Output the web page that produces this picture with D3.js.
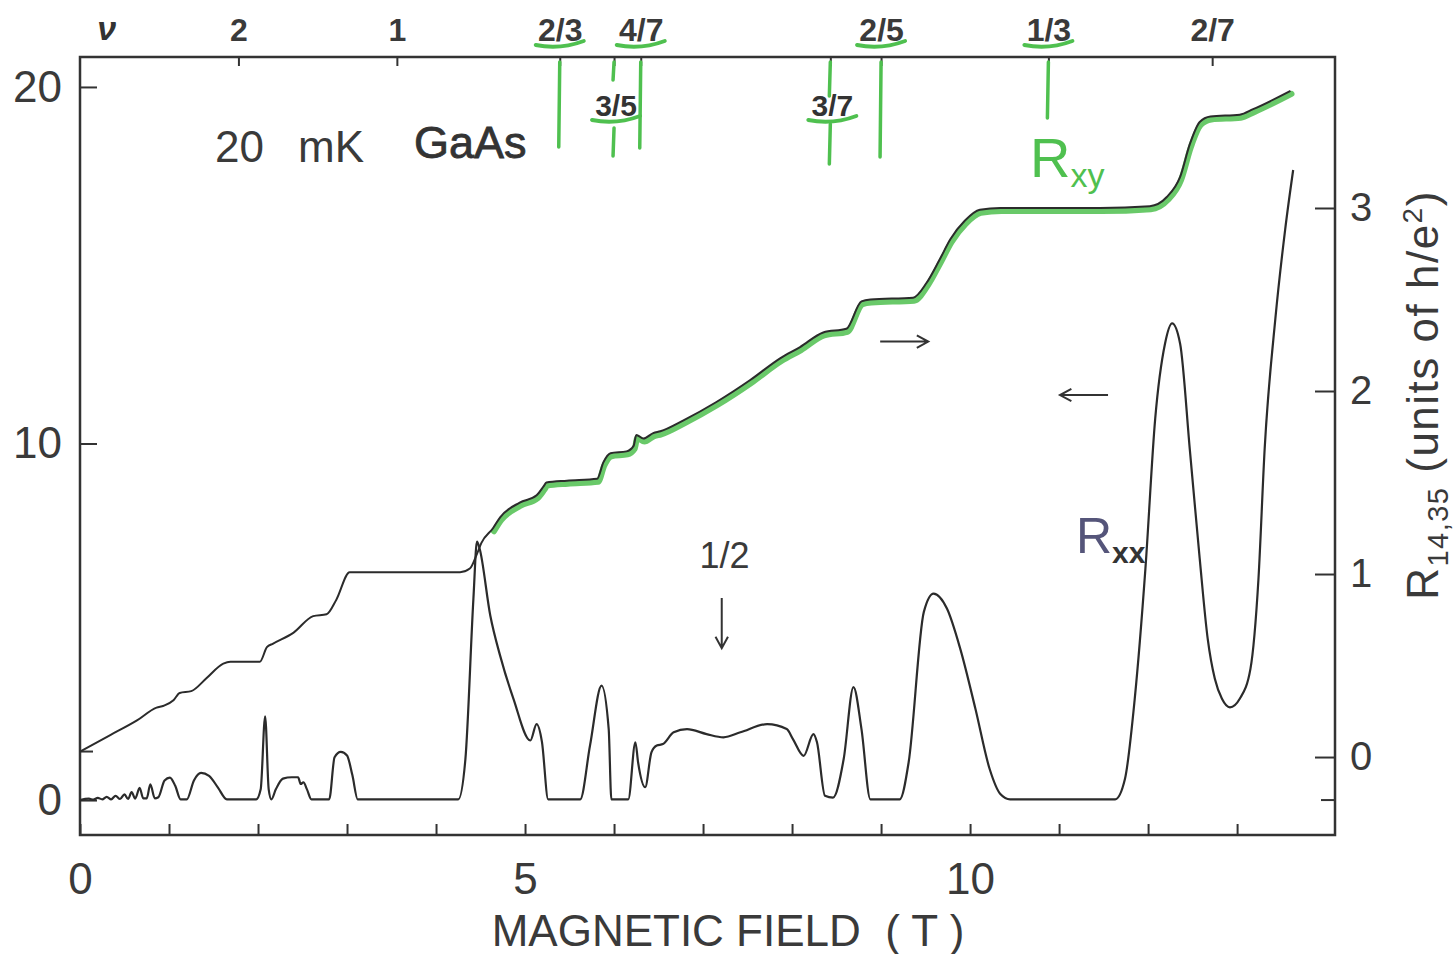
<!DOCTYPE html>
<html>
<head>
<meta charset="utf-8">
<script src="https://cdn.jsdelivr.net/npm/d3@7"></script>
<style>
  body { margin: 0; background: #fff; }
  text { font-family: "Liberation Sans", Arial, sans-serif; fill: #3a3a3a; }
</style>
</head>
<body>
<svg id="chart"></svg>
<script>
// magnetic field (T) and longitudinal resistance R_xx (left axis)
const rxxField = [0, 0.1, 0.15, 0.2, 0.25, 0.3, 0.35, 0.4, 0.45, 0.5, 0.54, 0.58, 0.62, 0.67, 0.71, 0.75, 0.79, 0.84,
  0.88, 0.95, 1.01, 1.07, 1.13, 1.2, 1.28, 1.36, 1.45, 1.55, 1.65, 1.98, 2.03, 2.08, 2.12, 2.15, 2.2, 2.28, 2.38, 2.45,
  2.48, 2.51, 2.55, 2.6, 2.8, 2.86, 2.93, 3.0, 3.06, 3.12, 4.25, 4.33, 4.42, 4.46, 4.49, 4.61, 4.72, 4.87, 5.06, 5.13,
  5.19, 5.26, 5.62, 5.73, 5.86, 5.94, 5.97, 6.16, 6.24, 6.27, 6.35, 6.42, 6.48, 6.55, 6.67, 6.82, 7.04, 7.23, 7.42,
  7.72, 7.94, 8.01, 8.13, 8.24, 8.28, 8.37, 8.46, 8.58, 8.69, 8.78, 8.88, 9.21, 9.31, 9.48, 9.59, 9.74, 9.89, 10.06,
  10.22, 10.34, 10.45, 11.63, 11.74, 11.85, 11.97, 12.08, 12.19, 12.27, 12.36, 12.47, 12.58, 12.67, 12.75, 12.83,
  12.92, 13.03, 13.15, 13.24, 13.31, 13.43, 13.54, 13.63];
const rxxValue = [0, 0.04, 0.01, 0.06, 0.02, 0.09, 0.02, 0.12, 0.03, 0.16, 0.03, 0.22, 0.04, 0.34, 0.05, 0.05, 0.44, 0.05,
  0.08, 0.55, 0.63, 0.4, 0.02, 0.02, 0.55, 0.76, 0.68, 0.35, 0.02, 0.02, 0.3, 2.35, 0.3, 0.02, 0.3, 0.6, 0.64, 0.64,
  0.45, 0.5, 0.3, 0.02, 0.02, 1.2, 1.35, 1.25, 0.7, 0.02, 0.02, 1.15, 5.65, 7.25, 7.05, 5.17, 4.05, 2.84, 1.67, 2.13,
  1.63, 0.02, 0.02, 1.53, 3.21, 1.99, 0.02, 0.02, 1.62, 1.06, 0.36, 1.34, 1.53, 1.57, 1.9, 1.99, 1.85, 1.76, 1.9,
  2.13, 1.99, 1.71, 1.24, 1.85, 1.62, 0.12, 0.07, 1.15, 3.17, 1.99, 0.02, 0.02, 1.06, 5.27, 5.79, 5.37, 4.24, 2.56,
  0.87, 0.17, 0.02, 0.02, 0.59, 2.84, 6.49, 10.7, 12.8, 13.37, 12.8, 9.8, 6.77, 4.52, 3.4, 2.84,
  2.6, 2.84, 3.68, 6.2, 9.86, 13.5, 16.0, 17.67];

// Hall resistance R_xy in units of h/e^2 (right axis)
const rxyField = [0, 0.34, 0.64, 0.86, 0.94, 1.05, 1.12, 1.25, 1.42, 1.61, 1.69, 2.02, 2.1, 2.17, 2.4, 2.62, 2.77, 2.88,
  3.03, 4.27, 4.38, 4.46, 4.51, 4.64, 4.72, 4.94, 5.13, 5.21, 5.24, 5.47, 5.81, 5.88, 5.96, 6.14, 6.22, 6.25, 6.33,
  6.44, 6.52, 6.78, 7.15, 7.53, 7.87, 8.09, 8.35, 8.61, 8.78, 8.88, 9.36, 9.51, 9.66, 9.78, 9.94, 10.11, 10.34,
  11.46, 12.02, 12.21, 12.36, 12.47, 12.58, 12.7, 13.03, 13.18, 13.6];
const rxyValue = [0.03, 0.12, 0.2, 0.27, 0.28, 0.31, 0.35, 0.36, 0.43, 0.51, 0.52, 0.52, 0.6, 0.62, 0.68, 0.77, 0.78, 0.86,
  1.01, 1.01, 1.03, 1.11, 1.17, 1.25, 1.31, 1.39, 1.43, 1.48, 1.5, 1.51, 1.52, 1.61, 1.66, 1.67, 1.7, 1.76, 1.74,
  1.77, 1.78, 1.84, 1.94, 2.06, 2.18, 2.24, 2.32, 2.34, 2.49, 2.5, 2.51, 2.59, 2.72, 2.83, 2.93, 2.99, 3.0,
  3.0, 3.01, 3.06, 3.17, 3.35, 3.47, 3.5, 3.51, 3.54, 3.64];

// filling factors marked on the top edge
const nuLabels = ["2", "1", "2/3", "3/5", "4/7", "3/7", "2/5", "1/3", "2/7"];
const nuField = [1.78, 3.56, 5.39, 6.0, 6.3, 8.43, 9.0, 10.88, 12.72];
const nuInside = ["3/5", "3/7"];          // these labels are written below the edge

const fieldTicks = d3.range(0, 14);
const fieldLabels = [0, 5, 10];
const leftTicks = [0, 10, 20];
const rightTicks = [0, 1, 2, 3];

const width = 1454, height = 954;
const frame = { left: 80, right: 1335, top: 57, bottom: 835 };
const green = "#4fc04f";

const svg = d3.select("#chart").attr("width", width).attr("height", height);

const x = d3.scaleLinear().domain([0, 14.1]).range([frame.left, frame.right]);
const yL = d3.scaleLinear().domain([-0.98, 20.84]).range([frame.bottom, frame.top]);
const yR = d3.scaleLinear().domain([-0.426, 3.825]).range([frame.bottom, frame.top]);

// frame
svg.append("rect")
  .attr("x", frame.left).attr("y", frame.top)
  .attr("width", frame.right - frame.left).attr("height", frame.bottom - frame.top)
  .attr("fill", "none").attr("stroke", "#333").attr("stroke-width", 2.5);

function styleAxis(g, size) {
  g.select(".domain").remove();
  g.selectAll(".tick line").attr("stroke", "#333").attr("stroke-width", 2);
  g.selectAll(".tick text").attr("font-size", size).attr("fill", "#3a3a3a")
    .attr("font-family", "Liberation Sans, Arial, sans-serif");
}

svg.append("g")
  .attr("transform", `translate(0,${frame.bottom})`)
  .call(d3.axisBottom(x).tickValues(fieldTicks).tickSize(-11).tickPadding(28)
    .tickFormat(d => fieldLabels.includes(d) ? d : ""))
  .call(g => styleAxis(g, 44));

svg.append("g")
  .attr("transform", `translate(${frame.left},0)`)
  .call(d3.axisLeft(yL).tickValues(leftTicks).tickSize(-17).tickPadding(18).tickFormat(d3.format("d")))
  .call(g => styleAxis(g, 44));

svg.append("g")
  .attr("transform", `translate(${frame.right},0)`)
  .call(d3.axisRight(yR).tickValues(rightTicks).tickSize(-20).tickPadding(15).tickFormat(d3.format("d")))
  .call(g => styleAxis(g, 40));

// extra short marks: R_xx zero on the right, R_xy zero on the left
svg.append("line").attr("x1", frame.right - 14).attr("x2", frame.right)
  .attr("y1", yL(0)).attr("y2", yL(0)).attr("stroke", "#333").attr("stroke-width", 2);
svg.append("line").attr("x1", frame.left).attr("x2", frame.left + 13)
  .attr("y1", yR(0.03)).attr("y2", yR(0.03)).attr("stroke", "#333").attr("stroke-width", 2);

svg.append("g")
  .attr("transform", `translate(0,${frame.top})`)
  .call(d3.axisTop(x).tickValues(nuField).tickSize(-9).tickPadding(16)
    .tickFormat((d, i) => nuInside.includes(nuLabels[i]) ? "" : nuLabels[i]))
  .call(g => styleAxis(g, 32))
  .call(g => g.selectAll(".tick text").attr("font-weight", "bold").attr("fill", "#333"));

svg.append("text").attr("x", x(0.3)).attr("y", 40)
  .attr("font-family", "DejaVu Serif").attr("font-style", "italic").attr("font-weight", "bold")
  .attr("font-size", 34).attr("text-anchor", "middle").style("fill", "#333").text("ν");

// green hand annotations on the fractions
const nuAt = lab => x(nuField[nuLabels.indexOf(lab)]);
const greenLines = [
  ["2/3", [[62, 147]]], ["3/5", [[62, 80], [128, 156]]], ["4/7", [[62, 148]]],
  ["3/7", [[62, 96], [124, 164]]], ["2/5", [[62, 157]]], ["1/3", [[62, 118]]]
];
const gAnn = svg.append("g").attr("stroke", green).attr("stroke-linecap", "round").attr("fill", "none");
greenLines.forEach(([lab, segs]) => {
  segs.forEach(s => gAnn.append("line")
    .attr("x1", nuAt(lab)).attr("x2", nuAt(lab) - 1)
    .attr("y1", s[0]).attr("y2", s[1]).attr("stroke-width", 3.5));
  const inside = nuInside.includes(lab);
  const uy = inside ? 120 : 45;
  const cx = inside ? nuAt(lab) + 2 : nuAt(lab);
  gAnn.append("path")
    .attr("d", `M${cx - 24},${uy} Q${cx},${uy + 5} ${cx + 24},${uy - 4}`)
    .attr("stroke-width", 4);
});
nuInside.forEach(lab => {
  svg.append("text").attr("x", nuAt(lab) + 2).attr("y", 116).attr("text-anchor", "middle")
    .attr("font-size", 30).attr("font-weight", "bold").style("fill", "#333").text(lab);
});

// curves
const rxx = rxxField.map((b, i) => ({ b, v: rxxValue[i] }));
const rxy = rxyField.map((b, i) => ({ b, v: rxyValue[i] }));

svg.append("path").datum(rxy.filter(d => d.b >= 4.55))
  .attr("d", d3.line().x(d => x(d.b)).y(d => yR(d.v)).curve(d3.curveMonotoneX))
  .attr("transform", "translate(1,3)")
  .attr("fill", "none").attr("stroke", green).attr("stroke-width", 6)
  .attr("stroke-opacity", 0.85).attr("stroke-linecap", "round");

svg.append("path").datum(rxy)
  .attr("d", d3.line().x(d => x(d.b)).y(d => yR(d.v)).curve(d3.curveMonotoneX))
  .attr("fill", "none").attr("stroke", "#2b2b2b").attr("stroke-width", 2);

svg.append("path").datum(rxx)
  .attr("d", d3.line().x(d => x(d.b)).y(d => yL(d.v)).curve(d3.curveMonotoneX))
  .attr("fill", "none").attr("stroke", "#2b2b2b").attr("stroke-width", 2.2);

// arrows
function arrow(x1, y1, x2, y2) {
  const a = Math.atan2(y2 - y1, x2 - x1), h = 13;
  svg.append("path")
    .attr("d", `M${x1},${y1}L${x2},${y2}M${x2 - h * Math.cos(a - 0.5)},${y2 - h * Math.sin(a - 0.5)}` +
      `L${x2},${y2}L${x2 - h * Math.cos(a + 0.5)},${y2 - h * Math.sin(a + 0.5)}`)
    .attr("fill", "none").attr("stroke", "#333").attr("stroke-width", 2);
}
arrow(x(8.99), yR(2.27), x(9.53), yR(2.27));
arrow(x(11.55), yL(11.36), x(11.01), yL(11.36));
arrow(x(7.21), yL(5.67), x(7.21), yL(4.26));

svg.append("text").attr("x", x(7.24)).attr("y", yL(6.5)).attr("text-anchor", "middle")
  .attr("font-size", 36).text("1/2");

// labels in the plot
const t1 = svg.append("text").attr("y", 162).attr("font-size", 44);
t1.append("tspan").attr("x", 215).text("20");
t1.append("tspan").attr("x", 298).text("mK");
svg.append("text").attr("x", 414).attr("y", 158).attr("font-family", "DejaVu Sans")
  .attr("font-size", 45).style("fill", "#333").style("stroke", "#333").style("stroke-width", 0.8).text("GaAs");

const rxyLab = svg.append("text").attr("x", 1030).attr("y", 177).attr("font-family", "DejaVu Sans");
rxyLab.append("tspan").attr("font-size", 56).style("fill", green).text("R");
rxyLab.append("tspan").attr("font-size", 34).attr("dy", 10).style("fill", green).text("xy");

const rxxLab = svg.append("text").attr("x", 1076).attr("y", 553).attr("font-family", "DejaVu Sans");
rxxLab.append("tspan").attr("font-size", 50).style("fill", "#55557a").text("R");
rxxLab.append("tspan").attr("font-size", 30).attr("dy", 10).style("fill", "#333").attr("font-weight", "bold").text("xx");

// axis titles
svg.append("text").attr("x", 728).attr("y", 946).attr("text-anchor", "middle")
  .attr("font-size", 44).text("MAGNETIC FIELD  ( T )").style("white-space", "pre");

const rt = svg.append("text")
  .attr("transform", `translate(1438,${395}) rotate(-90)`)
  .attr("text-anchor", "middle").attr("font-size", 44).attr("letter-spacing", 1.5);
rt.append("tspan").text("R");
rt.append("tspan").attr("font-size", 29).attr("dy", 10).text("14,35");
rt.append("tspan").attr("dy", -10).text(" (units of h/e");
rt.append("tspan").attr("font-size", 28).attr("dy", -16).text("2");
rt.append("tspan").attr("dy", 16).text(")");
</script>
</body>
</html>
